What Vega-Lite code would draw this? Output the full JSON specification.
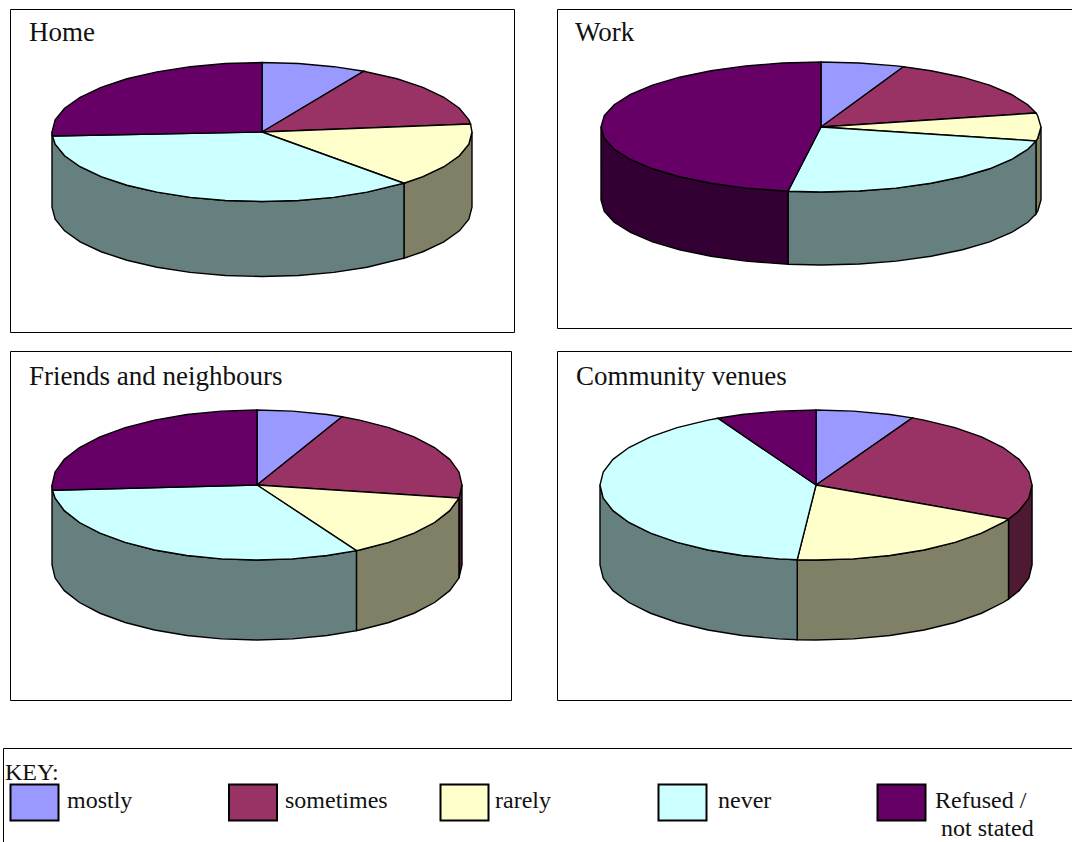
{
"$schema":"https://vega.github.io/schema/vega-lite/v6.json",
"padding":{"left":2,"top":3,"right":0,"bottom":0},
"background":"white",
"config":{"view":{"stroke":"#000","strokeWidth":1},"text":{"font":"Liberation Serif"}},
"datasets":{
"homeTop":[
{"slice":"mostly","x":0,"y":0},{"slice":"mostly","x":0,"y":1},{"slice":"mostly","x":0.174,"y":0.985},{"slice":"mostly","x":0.342,"y":0.94},{"slice":"mostly","x":0.485,"y":0.875},{"slice":"mostly","x":0,"y":0},
{"slice":"sometimes","x":0,"y":0},{"slice":"sometimes","x":0.485,"y":0.875},{"slice":"sometimes","x":0.643,"y":0.766},{"slice":"sometimes","x":0.766,"y":0.643},{"slice":"sometimes","x":0.866,"y":0.5},{"slice":"sometimes","x":0.94,"y":0.342},{"slice":"sometimes","x":0.985,"y":0.174},{"slice":"sometimes","x":0.993,"y":0.115},{"slice":"sometimes","x":0,"y":0},
{"slice":"rarely","x":0,"y":0},{"slice":"rarely","x":0.993,"y":0.115},{"slice":"rarely","x":1,"y":0},{"slice":"rarely","x":0.985,"y":-0.174},{"slice":"rarely","x":0.94,"y":-0.342},{"slice":"rarely","x":0.866,"y":-0.5},{"slice":"rarely","x":0.766,"y":-0.643},{"slice":"rarely","x":0.676,"y":-0.737},{"slice":"rarely","x":0,"y":0},
{"slice":"never","x":0,"y":0},{"slice":"never","x":0.676,"y":-0.737},{"slice":"never","x":0.5,"y":-0.866},{"slice":"never","x":0.342,"y":-0.94},{"slice":"never","x":0.174,"y":-0.985},{"slice":"never","x":0,"y":-1},{"slice":"never","x":-0.174,"y":-0.985},{"slice":"never","x":-0.342,"y":-0.94},{"slice":"never","x":-0.5,"y":-0.866},{"slice":"never","x":-0.643,"y":-0.766},{"slice":"never","x":-0.766,"y":-0.643},{"slice":"never","x":-0.866,"y":-0.5},{"slice":"never","x":-0.94,"y":-0.342},{"slice":"never","x":-0.985,"y":-0.174},{"slice":"never","x":-0.998,"y":-0.058},{"slice":"never","x":0,"y":0},
{"slice":"refused","x":0,"y":0},{"slice":"refused","x":-0.998,"y":-0.058},{"slice":"refused","x":-1,"y":0},{"slice":"refused","x":-0.985,"y":0.174},{"slice":"refused","x":-0.94,"y":0.342},{"slice":"refused","x":-0.866,"y":0.5},{"slice":"refused","x":-0.766,"y":0.643},{"slice":"refused","x":-0.643,"y":0.766},{"slice":"refused","x":-0.5,"y":0.866},{"slice":"refused","x":-0.342,"y":0.94},{"slice":"refused","x":-0.174,"y":0.985},{"slice":"refused","x":0,"y":1},{"slice":"refused","x":0,"y":0}],
"homeSide":[
{"slice":"rarely side","x":1,"y":0},{"slice":"rarely side","x":0.985,"y":-0.174},{"slice":"rarely side","x":0.94,"y":-0.342},{"slice":"rarely side","x":0.866,"y":-0.5},{"slice":"rarely side","x":0.766,"y":-0.643},{"slice":"rarely side","x":0.676,"y":-0.737},{"slice":"rarely side","x":0.676,"y":-1.817},{"slice":"rarely side","x":0.766,"y":-1.723},{"slice":"rarely side","x":0.866,"y":-1.58},{"slice":"rarely side","x":0.94,"y":-1.422},{"slice":"rarely side","x":0.985,"y":-1.254},{"slice":"rarely side","x":1,"y":-1.08},{"slice":"rarely side","x":1,"y":0},
{"slice":"never side","x":0.676,"y":-0.737},{"slice":"never side","x":0.5,"y":-0.866},{"slice":"never side","x":0.342,"y":-0.94},{"slice":"never side","x":0.174,"y":-0.985},{"slice":"never side","x":0,"y":-1},{"slice":"never side","x":-0.174,"y":-0.985},{"slice":"never side","x":-0.342,"y":-0.94},{"slice":"never side","x":-0.5,"y":-0.866},{"slice":"never side","x":-0.643,"y":-0.766},{"slice":"never side","x":-0.766,"y":-0.643},{"slice":"never side","x":-0.866,"y":-0.5},{"slice":"never side","x":-0.94,"y":-0.342},{"slice":"never side","x":-0.985,"y":-0.174},{"slice":"never side","x":-1,"y":0},{"slice":"never side","x":-1,"y":-1.08},{"slice":"never side","x":-0.985,"y":-1.254},{"slice":"never side","x":-0.94,"y":-1.422},{"slice":"never side","x":-0.866,"y":-1.58},{"slice":"never side","x":-0.766,"y":-1.723},{"slice":"never side","x":-0.643,"y":-1.846},{"slice":"never side","x":-0.5,"y":-1.946},{"slice":"never side","x":-0.342,"y":-2.02},{"slice":"never side","x":-0.174,"y":-2.065},{"slice":"never side","x":0,"y":-2.08},{"slice":"never side","x":0.174,"y":-2.065},{"slice":"never side","x":0.342,"y":-2.02},{"slice":"never side","x":0.5,"y":-1.946},{"slice":"never side","x":0.676,"y":-1.817},{"slice":"never side","x":0.676,"y":-0.737}],
"workTop":[
{"slice":"mostly","x":0,"y":0},{"slice":"mostly","x":0,"y":1},{"slice":"mostly","x":0.174,"y":0.985},{"slice":"mostly","x":0.342,"y":0.94},{"slice":"mostly","x":0.375,"y":0.927},{"slice":"mostly","x":0,"y":0},
{"slice":"sometimes","x":0,"y":0},{"slice":"sometimes","x":0.375,"y":0.927},{"slice":"sometimes","x":0.5,"y":0.866},{"slice":"sometimes","x":0.643,"y":0.766},{"slice":"sometimes","x":0.766,"y":0.643},{"slice":"sometimes","x":0.866,"y":0.5},{"slice":"sometimes","x":0.94,"y":0.342},{"slice":"sometimes","x":0.977,"y":0.215},{"slice":"sometimes","x":0,"y":0},
{"slice":"rarely","x":0,"y":0},{"slice":"rarely","x":0.977,"y":0.215},{"slice":"rarely","x":0.985,"y":0.174},{"slice":"rarely","x":1,"y":0},{"slice":"rarely","x":0.985,"y":-0.174},{"slice":"rarely","x":0.977,"y":-0.215},{"slice":"rarely","x":0,"y":0},
{"slice":"never","x":0,"y":0},{"slice":"never","x":0.977,"y":-0.215},{"slice":"never","x":0.94,"y":-0.342},{"slice":"never","x":0.866,"y":-0.5},{"slice":"never","x":0.766,"y":-0.643},{"slice":"never","x":0.643,"y":-0.766},{"slice":"never","x":0.5,"y":-0.866},{"slice":"never","x":0.342,"y":-0.94},{"slice":"never","x":0.174,"y":-0.985},{"slice":"never","x":0,"y":-1},{"slice":"never","x":-0.15,"y":-0.989},{"slice":"never","x":0,"y":0},
{"slice":"refused","x":0,"y":0},{"slice":"refused","x":-0.15,"y":-0.989},{"slice":"refused","x":-0.342,"y":-0.94},{"slice":"refused","x":-0.5,"y":-0.866},{"slice":"refused","x":-0.643,"y":-0.766},{"slice":"refused","x":-0.766,"y":-0.643},{"slice":"refused","x":-0.866,"y":-0.5},{"slice":"refused","x":-0.94,"y":-0.342},{"slice":"refused","x":-0.985,"y":-0.174},{"slice":"refused","x":-1,"y":0},{"slice":"refused","x":-0.985,"y":0.174},{"slice":"refused","x":-0.94,"y":0.342},{"slice":"refused","x":-0.866,"y":0.5},{"slice":"refused","x":-0.766,"y":0.643},{"slice":"refused","x":-0.643,"y":0.766},{"slice":"refused","x":-0.5,"y":0.866},{"slice":"refused","x":-0.342,"y":0.94},{"slice":"refused","x":-0.174,"y":0.985},{"slice":"refused","x":0,"y":1},{"slice":"refused","x":0,"y":0}],
"workSide":[
{"slice":"rarely side","x":1,"y":0},{"slice":"rarely side","x":0.985,"y":-0.174},{"slice":"rarely side","x":0.977,"y":-0.215},{"slice":"rarely side","x":0.977,"y":-1.338},{"slice":"rarely side","x":0.985,"y":-1.297},{"slice":"rarely side","x":1,"y":-1.123},{"slice":"rarely side","x":1,"y":0},
{"slice":"never side","x":0.977,"y":-0.215},{"slice":"never side","x":0.94,"y":-0.342},{"slice":"never side","x":0.866,"y":-0.5},{"slice":"never side","x":0.766,"y":-0.643},{"slice":"never side","x":0.643,"y":-0.766},{"slice":"never side","x":0.5,"y":-0.866},{"slice":"never side","x":0.342,"y":-0.94},{"slice":"never side","x":0.174,"y":-0.985},{"slice":"never side","x":0,"y":-1},{"slice":"never side","x":-0.15,"y":-0.989},{"slice":"never side","x":-0.15,"y":-2.112},{"slice":"never side","x":0,"y":-2.123},{"slice":"never side","x":0.174,"y":-2.108},{"slice":"never side","x":0.342,"y":-2.063},{"slice":"never side","x":0.5,"y":-1.989},{"slice":"never side","x":0.643,"y":-1.889},{"slice":"never side","x":0.766,"y":-1.766},{"slice":"never side","x":0.866,"y":-1.623},{"slice":"never side","x":0.94,"y":-1.465},{"slice":"never side","x":0.977,"y":-1.338},{"slice":"never side","x":0.977,"y":-0.215},
{"slice":"refused side","x":-0.15,"y":-0.989},{"slice":"refused side","x":-0.342,"y":-0.94},{"slice":"refused side","x":-0.5,"y":-0.866},{"slice":"refused side","x":-0.643,"y":-0.766},{"slice":"refused side","x":-0.766,"y":-0.643},{"slice":"refused side","x":-0.866,"y":-0.5},{"slice":"refused side","x":-0.94,"y":-0.342},{"slice":"refused side","x":-0.985,"y":-0.174},{"slice":"refused side","x":-1,"y":0},{"slice":"refused side","x":-1,"y":-1.123},{"slice":"refused side","x":-0.985,"y":-1.297},{"slice":"refused side","x":-0.94,"y":-1.465},{"slice":"refused side","x":-0.866,"y":-1.623},{"slice":"refused side","x":-0.766,"y":-1.766},{"slice":"refused side","x":-0.643,"y":-1.889},{"slice":"refused side","x":-0.5,"y":-1.989},{"slice":"refused side","x":-0.342,"y":-2.063},{"slice":"refused side","x":-0.15,"y":-2.112},{"slice":"refused side","x":-0.15,"y":-0.989}],
"friendsTop":[
{"slice":"mostly","x":0,"y":0},{"slice":"mostly","x":0,"y":1},{"slice":"mostly","x":0.174,"y":0.985},{"slice":"mostly","x":0.342,"y":0.94},{"slice":"mostly","x":0.415,"y":0.91},{"slice":"mostly","x":0,"y":0},
{"slice":"sometimes","x":0,"y":0},{"slice":"sometimes","x":0.415,"y":0.91},{"slice":"sometimes","x":0.5,"y":0.866},{"slice":"sometimes","x":0.643,"y":0.766},{"slice":"sometimes","x":0.766,"y":0.643},{"slice":"sometimes","x":0.866,"y":0.5},{"slice":"sometimes","x":0.94,"y":0.342},{"slice":"sometimes","x":0.985,"y":0.174},{"slice":"sometimes","x":1,"y":0},{"slice":"sometimes","x":0.985,"y":-0.174},{"slice":"sometimes","x":0,"y":0},
{"slice":"rarely","x":0,"y":0},{"slice":"rarely","x":0.985,"y":-0.174},{"slice":"rarely","x":0.94,"y":-0.342},{"slice":"rarely","x":0.866,"y":-0.5},{"slice":"rarely","x":0.766,"y":-0.643},{"slice":"rarely","x":0.643,"y":-0.766},{"slice":"rarely","x":0.5,"y":-0.866},{"slice":"rarely","x":0.485,"y":-0.875},{"slice":"rarely","x":0,"y":0},
{"slice":"never","x":0,"y":0},{"slice":"never","x":0.485,"y":-0.875},{"slice":"never","x":0.342,"y":-0.94},{"slice":"never","x":0.174,"y":-0.985},{"slice":"never","x":0,"y":-1},{"slice":"never","x":-0.174,"y":-0.985},{"slice":"never","x":-0.342,"y":-0.94},{"slice":"never","x":-0.5,"y":-0.866},{"slice":"never","x":-0.643,"y":-0.766},{"slice":"never","x":-0.766,"y":-0.643},{"slice":"never","x":-0.866,"y":-0.5},{"slice":"never","x":-0.94,"y":-0.342},{"slice":"never","x":-0.985,"y":-0.174},{"slice":"never","x":-0.998,"y":-0.07},{"slice":"never","x":0,"y":0},
{"slice":"refused","x":0,"y":0},{"slice":"refused","x":-0.998,"y":-0.07},{"slice":"refused","x":-1,"y":0},{"slice":"refused","x":-0.985,"y":0.174},{"slice":"refused","x":-0.94,"y":0.342},{"slice":"refused","x":-0.866,"y":0.5},{"slice":"refused","x":-0.766,"y":0.643},{"slice":"refused","x":-0.643,"y":0.766},{"slice":"refused","x":-0.5,"y":0.866},{"slice":"refused","x":-0.342,"y":0.94},{"slice":"refused","x":-0.174,"y":0.985},{"slice":"refused","x":0,"y":1},{"slice":"refused","x":0,"y":0}],
"friendsSide":[
{"slice":"sometimes side","x":1,"y":0},{"slice":"sometimes side","x":0.985,"y":-0.174},{"slice":"sometimes side","x":0.985,"y":-1.241},{"slice":"sometimes side","x":1,"y":-1.067},{"slice":"sometimes side","x":1,"y":0},
{"slice":"rarely side","x":0.985,"y":-0.174},{"slice":"rarely side","x":0.94,"y":-0.342},{"slice":"rarely side","x":0.866,"y":-0.5},{"slice":"rarely side","x":0.766,"y":-0.643},{"slice":"rarely side","x":0.643,"y":-0.766},{"slice":"rarely side","x":0.5,"y":-0.866},{"slice":"rarely side","x":0.485,"y":-0.875},{"slice":"rarely side","x":0.485,"y":-1.942},{"slice":"rarely side","x":0.5,"y":-1.933},{"slice":"rarely side","x":0.643,"y":-1.833},{"slice":"rarely side","x":0.766,"y":-1.71},{"slice":"rarely side","x":0.866,"y":-1.567},{"slice":"rarely side","x":0.94,"y":-1.409},{"slice":"rarely side","x":0.985,"y":-1.241},{"slice":"rarely side","x":0.985,"y":-0.174},
{"slice":"never side","x":0.485,"y":-0.875},{"slice":"never side","x":0.342,"y":-0.94},{"slice":"never side","x":0.174,"y":-0.985},{"slice":"never side","x":0,"y":-1},{"slice":"never side","x":-0.174,"y":-0.985},{"slice":"never side","x":-0.342,"y":-0.94},{"slice":"never side","x":-0.5,"y":-0.866},{"slice":"never side","x":-0.643,"y":-0.766},{"slice":"never side","x":-0.766,"y":-0.643},{"slice":"never side","x":-0.866,"y":-0.5},{"slice":"never side","x":-0.94,"y":-0.342},{"slice":"never side","x":-0.985,"y":-0.174},{"slice":"never side","x":-1,"y":0},{"slice":"never side","x":-1,"y":-1.067},{"slice":"never side","x":-0.985,"y":-1.241},{"slice":"never side","x":-0.94,"y":-1.409},{"slice":"never side","x":-0.866,"y":-1.567},{"slice":"never side","x":-0.766,"y":-1.71},{"slice":"never side","x":-0.643,"y":-1.833},{"slice":"never side","x":-0.5,"y":-1.933},{"slice":"never side","x":-0.342,"y":-2.007},{"slice":"never side","x":-0.174,"y":-2.052},{"slice":"never side","x":0,"y":-2.067},{"slice":"never side","x":0.174,"y":-2.052},{"slice":"never side","x":0.342,"y":-2.007},{"slice":"never side","x":0.485,"y":-1.942},{"slice":"never side","x":0.485,"y":-0.875}],
"communityTop":[
{"slice":"mostly","x":0,"y":0},{"slice":"mostly","x":0,"y":1},{"slice":"mostly","x":0.174,"y":0.985},{"slice":"mostly","x":0.342,"y":0.94},{"slice":"mostly","x":0.446,"y":0.895},{"slice":"mostly","x":0,"y":0},
{"slice":"sometimes","x":0,"y":0},{"slice":"sometimes","x":0.446,"y":0.895},{"slice":"sometimes","x":0.5,"y":0.866},{"slice":"sometimes","x":0.643,"y":0.766},{"slice":"sometimes","x":0.766,"y":0.643},{"slice":"sometimes","x":0.866,"y":0.5},{"slice":"sometimes","x":0.94,"y":0.342},{"slice":"sometimes","x":0.985,"y":0.174},{"slice":"sometimes","x":1,"y":0},{"slice":"sometimes","x":0.985,"y":-0.174},{"slice":"sometimes","x":0.94,"y":-0.342},{"slice":"sometimes","x":0.891,"y":-0.454},{"slice":"sometimes","x":0,"y":0},
{"slice":"rarely","x":0,"y":0},{"slice":"rarely","x":0.891,"y":-0.454},{"slice":"rarely","x":0.866,"y":-0.5},{"slice":"rarely","x":0.766,"y":-0.643},{"slice":"rarely","x":0.643,"y":-0.766},{"slice":"rarely","x":0.5,"y":-0.866},{"slice":"rarely","x":0.342,"y":-0.94},{"slice":"rarely","x":0.174,"y":-0.985},{"slice":"rarely","x":0,"y":-1},{"slice":"rarely","x":-0.087,"y":-0.996},{"slice":"rarely","x":0,"y":0},
{"slice":"never","x":0,"y":0},{"slice":"never","x":-0.087,"y":-0.996},{"slice":"never","x":-0.174,"y":-0.985},{"slice":"never","x":-0.342,"y":-0.94},{"slice":"never","x":-0.5,"y":-0.866},{"slice":"never","x":-0.643,"y":-0.766},{"slice":"never","x":-0.766,"y":-0.643},{"slice":"never","x":-0.866,"y":-0.5},{"slice":"never","x":-0.94,"y":-0.342},{"slice":"never","x":-0.985,"y":-0.174},{"slice":"never","x":-1,"y":0},{"slice":"never","x":-0.985,"y":0.174},{"slice":"never","x":-0.94,"y":0.342},{"slice":"never","x":-0.866,"y":0.5},{"slice":"never","x":-0.766,"y":0.643},{"slice":"never","x":-0.643,"y":0.766},{"slice":"never","x":-0.5,"y":0.866},{"slice":"never","x":-0.454,"y":0.891},{"slice":"never","x":0,"y":0},
{"slice":"refused","x":0,"y":0},{"slice":"refused","x":-0.454,"y":0.891},{"slice":"refused","x":-0.342,"y":0.94},{"slice":"refused","x":-0.174,"y":0.985},{"slice":"refused","x":0,"y":1},{"slice":"refused","x":0,"y":0}],
"communitySide":[
{"slice":"sometimes side","x":1,"y":0},{"slice":"sometimes side","x":0.985,"y":-0.174},{"slice":"sometimes side","x":0.94,"y":-0.342},{"slice":"sometimes side","x":0.891,"y":-0.454},{"slice":"sometimes side","x":0.891,"y":-1.521},{"slice":"sometimes side","x":0.94,"y":-1.409},{"slice":"sometimes side","x":0.985,"y":-1.241},{"slice":"sometimes side","x":1,"y":-1.067},{"slice":"sometimes side","x":1,"y":0},
{"slice":"rarely side","x":0.891,"y":-0.454},{"slice":"rarely side","x":0.866,"y":-0.5},{"slice":"rarely side","x":0.766,"y":-0.643},{"slice":"rarely side","x":0.643,"y":-0.766},{"slice":"rarely side","x":0.5,"y":-0.866},{"slice":"rarely side","x":0.342,"y":-0.94},{"slice":"rarely side","x":0.174,"y":-0.985},{"slice":"rarely side","x":0,"y":-1},{"slice":"rarely side","x":-0.087,"y":-0.996},{"slice":"rarely side","x":-0.087,"y":-2.063},{"slice":"rarely side","x":0,"y":-2.067},{"slice":"rarely side","x":0.174,"y":-2.052},{"slice":"rarely side","x":0.342,"y":-2.007},{"slice":"rarely side","x":0.5,"y":-1.933},{"slice":"rarely side","x":0.643,"y":-1.833},{"slice":"rarely side","x":0.766,"y":-1.71},{"slice":"rarely side","x":0.866,"y":-1.567},{"slice":"rarely side","x":0.891,"y":-1.521},{"slice":"rarely side","x":0.891,"y":-0.454},
{"slice":"never side","x":-0.087,"y":-0.996},{"slice":"never side","x":-0.174,"y":-0.985},{"slice":"never side","x":-0.342,"y":-0.94},{"slice":"never side","x":-0.5,"y":-0.866},{"slice":"never side","x":-0.643,"y":-0.766},{"slice":"never side","x":-0.766,"y":-0.643},{"slice":"never side","x":-0.866,"y":-0.5},{"slice":"never side","x":-0.94,"y":-0.342},{"slice":"never side","x":-0.985,"y":-0.174},{"slice":"never side","x":-1,"y":0},{"slice":"never side","x":-1,"y":-1.067},{"slice":"never side","x":-0.985,"y":-1.241},{"slice":"never side","x":-0.94,"y":-1.409},{"slice":"never side","x":-0.866,"y":-1.567},{"slice":"never side","x":-0.766,"y":-1.71},{"slice":"never side","x":-0.643,"y":-1.833},{"slice":"never side","x":-0.5,"y":-1.933},{"slice":"never side","x":-0.342,"y":-2.007},{"slice":"never side","x":-0.174,"y":-2.052},{"slice":"never side","x":-0.087,"y":-2.063},{"slice":"never side","x":-0.087,"y":-0.996}]
},
"vconcat":[
{"hconcat":[
{"width":1,"height":1,"view":{"stroke":null},"data":{"values":[{"label":""}]},"mark":{"type":"text","text":""}},
{"vconcat":[
{"hconcat":[
{"width":504,"height":323,
"encoding":{"x":{"field":"x","type":"quantitative","axis":null,"scale":{"domain":[-1.2,1.2],"nice":false,"zero":false}},"y":{"field":"y","type":"quantitative","axis":null,"scale":{"domain":[-2.878,1.77],"nice":false,"zero":false}},"fill":{"field":"slice","type":"nominal","legend":null,"scale":{"domain":["mostly","sometimes","rarely","never","refused","mostly side","sometimes side","rarely side","never side","refused side"],"range":["#9999ff","#993366","#ffffcc","#ccffff","#660066","#4d4d80","#4d1933","#808066","#668080","#330033"]}}},
"layer":[
{"data":{"name":"homeSide"},"mark":{"type":"line","order":null,"stroke":"#000","strokeWidth":1.4}},
{"data":{"name":"homeTop"},"mark":{"type":"line","order":null,"stroke":"#000","strokeWidth":1.4}},
{"data":{"values":[{"label":"Home","x":-1.11,"y":1.31}]},"mark":{"type":"text","align":"left","baseline":"alphabetic","fontSize":27},"encoding":{"text":{"field":"label"},"fill":{"value":"#111"}}}
]},
{"width":520,"height":319,
"encoding":{"x":{"field":"x","type":"quantitative","axis":null,"scale":{"domain":[-1.2,1.1636],"nice":false,"zero":false}},"y":{"field":"y","type":"quantitative","axis":null,"scale":{"domain":[-3.092,1.815],"nice":false,"zero":false}},"fill":{"field":"slice","type":"nominal","legend":null,"scale":{"domain":["mostly","sometimes","rarely","never","refused","mostly side","sometimes side","rarely side","never side","refused side"],"range":["#9999ff","#993366","#ffffcc","#ccffff","#660066","#4d4d80","#4d1933","#808066","#668080","#330033"]}}},
"layer":[
{"data":{"name":"workSide"},"mark":{"type":"line","order":null,"stroke":"#000","strokeWidth":1.4}},
{"data":{"name":"workTop"},"mark":{"type":"line","order":null,"stroke":"#000","strokeWidth":1.4}},
{"data":{"values":[{"label":"Work","x":-1.118,"y":1.323}]},"mark":{"type":"text","align":"left","baseline":"alphabetic","fontSize":27},"encoding":{"text":{"field":"label"},"fill":{"value":"#111"}}}
]}
],"spacing":41},
{"hconcat":[
{"width":501,"height":349,
"encoding":{"x":{"field":"x","type":"quantitative","axis":null,"scale":{"domain":[-1.205,1.239],"nice":false,"zero":false}},"y":{"field":"y","type":"quantitative","axis":null,"scale":{"domain":[-2.867,1.787],"nice":false,"zero":false}},"fill":{"field":"slice","type":"nominal","legend":null,"scale":{"domain":["mostly","sometimes","rarely","never","refused","mostly side","sometimes side","rarely side","never side","refused side"],"range":["#9999ff","#993366","#ffffcc","#ccffff","#660066","#4d4d80","#4d1933","#808066","#668080","#330033"]}}},
"layer":[
{"data":{"name":"friendsSide"},"mark":{"type":"line","order":null,"stroke":"#000","strokeWidth":1.4}},
{"data":{"name":"friendsTop"},"mark":{"type":"line","order":null,"stroke":"#000","strokeWidth":1.4}},
{"data":{"values":[{"label":"Friends and neighbours","x":-1.112,"y":1.333}]},"mark":{"type":"text","align":"left","baseline":"alphabetic","fontSize":27},"encoding":{"text":{"field":"label"},"fill":{"value":"#111"}}}
]},
{"width":520,"height":349,
"encoding":{"x":{"field":"x","type":"quantitative","axis":null,"scale":{"domain":[-1.199,1.208],"nice":false,"zero":false}},"y":{"field":"y","type":"quantitative","axis":null,"scale":{"domain":[-2.867,1.787],"nice":false,"zero":false}},"fill":{"field":"slice","type":"nominal","legend":null,"scale":{"domain":["mostly","sometimes","rarely","never","refused","mostly side","sometimes side","rarely side","never side","refused side"],"range":["#9999ff","#993366","#ffffcc","#ccffff","#660066","#4d4d80","#4d1933","#808066","#668080","#330033"]}}},
"layer":[
{"data":{"name":"communitySide"},"mark":{"type":"line","order":null,"stroke":"#000","strokeWidth":1.4}},
{"data":{"name":"communityTop"},"mark":{"type":"line","order":null,"stroke":"#000","strokeWidth":1.4}},
{"data":{"values":[{"label":"Community venues","x":-1.111,"y":1.333}]},"mark":{"type":"text","align":"left","baseline":"alphabetic","fontSize":27},"encoding":{"text":{"field":"label"},"fill":{"value":"#111"}}}
]}
],"spacing":44}
],"spacing":17}
],"spacing":5},
{"width":1087,"height":110,
"encoding":{"x":{"field":"x","type":"quantitative","axis":null,"scale":{"domain":[0,1087],"nice":false,"zero":false}},"y":{"field":"y","type":"quantitative","axis":null,"scale":{"domain":[110,0],"nice":false,"zero":false}}},
"layer":[
{"data":{"values":[{"slice":"mostly","x":31.5,"y":54.5},{"slice":"sometimes","x":250,"y":54.5},{"slice":"rarely","x":461.5,"y":54.5},{"slice":"never","x":679.5,"y":54.5},{"slice":"refused","x":898.5,"y":54.5}]},
"mark":{"type":"rect","width":48,"height":36,"stroke":"#000","strokeWidth":2},
"encoding":{"fill":{"field":"slice","type":"nominal","legend":null,"scale":{"domain":["mostly","sometimes","rarely","never","refused","mostly side","sometimes side","rarely side","never side","refused side"],"range":["#9999ff","#993366","#ffffcc","#ccffff","#660066","#4d4d80","#4d1933","#808066","#668080","#330033"]}}}},
{"data":{"values":[{"label":"KEY:","x":2,"y":32},{"label":"mostly","x":64,"y":60},{"label":"sometimes","x":282,"y":60},{"label":"rarely","x":492,"y":60},{"label":"never","x":715,"y":60},{"label":"Refused /","x":932,"y":60},{"label":"not stated","x":938,"y":88}]},
"mark":{"type":"text","align":"left","baseline":"alphabetic","fontSize":24,"fill":"#111"},
"encoding":{"text":{"field":"label"}}}
]}
],"spacing":46}
